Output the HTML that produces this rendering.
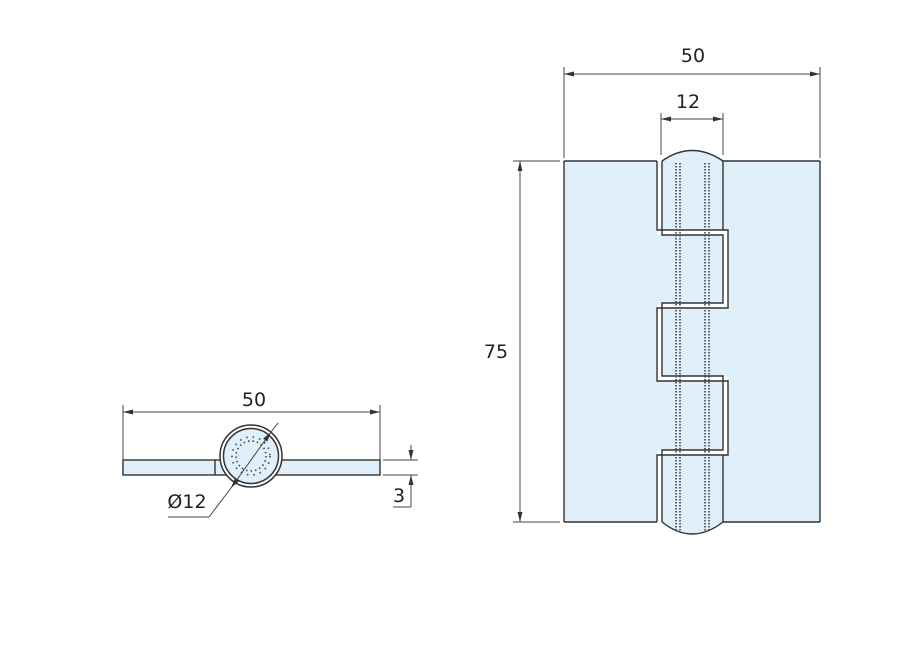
<!DOCTYPE html>
<html><head><style>
html,body{margin:0;padding:0;background:#fff;}
svg{display:block;}
text{font-family:"DejaVu Sans","Liberation Sans",sans-serif;font-size:19px;fill:#222;}
</style></head><body>
<svg width="900" height="671" viewBox="0 0 900 671" xmlns="http://www.w3.org/2000/svg">
<defs>
<marker id="a" markerWidth="10" markerHeight="6" refX="10" refY="3" orient="auto-start-reverse" markerUnits="userSpaceOnUse">
<path d="M0,0.5 L10,3 L0,5.5 Z" fill="#333"/></marker>
</defs>
<g stroke="#444" stroke-width="1" fill="none">
<!-- LEFT VIEW -->
<rect x="123" y="460" width="257" height="15" fill="#dff0fa" stroke="#333" stroke-width="1.4"/>
<line x1="215" y1="460" x2="215" y2="475" stroke="#333" stroke-width="1.4"/>
<circle cx="251" cy="456" r="31" fill="#fff" stroke="#333" stroke-width="1.5"/>
<circle cx="251" cy="456" r="27.5" fill="#dff0fa" stroke="#333" stroke-width="1.5"/>
<circle cx="251" cy="456" r="15" stroke="#444" stroke-width="1.6" stroke-dasharray="1.5 3"/>
<circle cx="251" cy="456" r="19" stroke="#444" stroke-width="1.6" stroke-dasharray="1.5 5"/>
<line x1="123" y1="405" x2="123" y2="460"/>
<line x1="380" y1="405" x2="380" y2="460"/>
<line x1="123" y1="412" x2="380" y2="412" marker-start="url(#a)" marker-end="url(#a)"/>
<line x1="383" y1="460" x2="418" y2="460"/>
<line x1="383" y1="475" x2="418" y2="475"/>
<line x1="411" y1="445" x2="411" y2="460" marker-end="url(#a)"/>
<line x1="411" y1="507" x2="411" y2="475" marker-end="url(#a)"/>
<line x1="411" y1="507" x2="393" y2="507"/>
<line x1="278" y1="423" x2="271" y2="432" />
<line x1="231" y1="488" x2="271" y2="432" marker-start="url(#a)" marker-end="url(#a)"/>
<line x1="231" y1="488" x2="209" y2="517"/>
<line x1="209" y1="517" x2="168" y2="517"/>

<!-- RIGHT VIEW -->
<rect x="564" y="161" width="256" height="361" fill="#dff0fa" stroke="none"/>
<path d="M662,161 Q692,140 723,161 Z" fill="#dff0fa" stroke="none"/>
<path d="M662,522 Q692,546 723,522 Z" fill="#dff0fa" stroke="none"/>
<polyline points="659.5,161 659.5,232.5 725.5,232.5 725.5,305.5 659.5,305.5 659.5,378.5 725.5,378.5 725.5,452.5 659.5,452.5 659.5,522" stroke="#fff" stroke-width="4" stroke-linejoin="miter"/>
<g stroke="#333" stroke-width="1.4">
<path d="M662,161 Q692,140 723,161"/>
<path d="M662,522 Q692,546 723,522"/>
<line x1="564" y1="161" x2="657" y2="161"/>
<line x1="723" y1="161" x2="820" y2="161"/>
<line x1="564" y1="522" x2="657" y2="522"/>
<line x1="723" y1="522" x2="820" y2="522"/>
<line x1="564" y1="161" x2="564" y2="522"/>
<line x1="820" y1="161" x2="820" y2="522"/>
<polyline points="657,161 657,230 728,230 728,308 657,308 657,381 728,381 728,455 657,455 657,522"/>
<polyline points="662,161 662,235 723,235 723,303 662,303 662,376 723,376 723,450 662,450 662,522"/>
<line x1="723" y1="161" x2="723" y2="230"/>
<line x1="723" y1="455" x2="723" y2="522"/>
</g>
<!-- dotted pins -->
<g stroke="#444" stroke-width="1.6" stroke-dasharray="1.5 1.5">
<line x1="676" y1="163" x2="676" y2="532"/><line x1="680" y1="163" x2="680" y2="532"/>
<line x1="705" y1="163" x2="705" y2="532"/><line x1="709" y1="163" x2="709" y2="532"/>
</g>
<!-- dims -->
<line x1="564" y1="67" x2="564" y2="158"/>
<line x1="820" y1="67" x2="820" y2="158"/>
<line x1="564" y1="74" x2="820" y2="74" marker-start="url(#a)" marker-end="url(#a)"/>
<line x1="661" y1="113" x2="661" y2="155"/>
<line x1="723" y1="113" x2="723" y2="155"/>
<line x1="661" y1="119" x2="723" y2="119" marker-start="url(#a)" marker-end="url(#a)"/>
<line x1="513" y1="161" x2="560" y2="161"/>
<line x1="513" y1="522" x2="560" y2="522"/>
<line x1="520" y1="161" x2="520" y2="522" marker-start="url(#a)" marker-end="url(#a)"/>
</g>
<text x="254" y="406" text-anchor="middle">50</text>
<text x="399" y="502" text-anchor="middle">3</text>
<text x="187" y="508" text-anchor="middle">Ø12</text>
<text x="693" y="62" text-anchor="middle">50</text>
<text x="688" y="108" text-anchor="middle">12</text>
<text x="496" y="358" text-anchor="middle">75</text>
</svg>
</body></html>
